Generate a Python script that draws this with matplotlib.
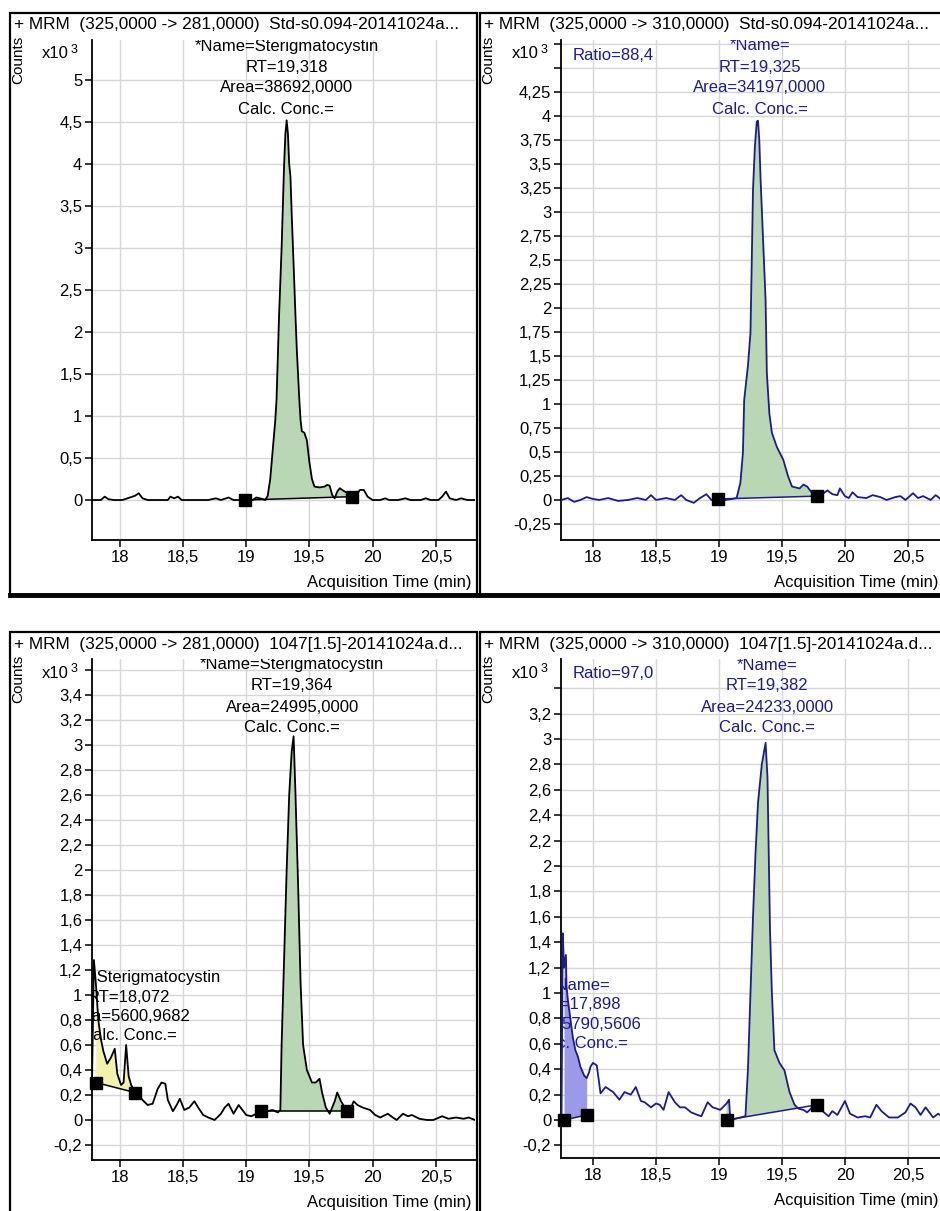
import numpy as np
import matplotlib
matplotlib.use("Agg")
import matplotlib.pyplot as plt
from matplotlib.ticker import FixedLocator, FuncFormatter
from matplotlib.lines import Line2D
from matplotlib.patches import Rectangle

plt.rcParams['font.family'] = ['Liberation Sans', 'DejaVu Sans']

W, H = 940, 1211
BLACK = "#000000"
BLUE = "#1c1c8c"
GREEN_FILL = "#b9d7b4"
YELLOW_FILL = "#f2f2ac"
BLUE_FILL = "#9a9ae6"
GRID = "#d6d6d6"

# ---------------- data (counts in x10^3, time in min) ----------------
tl_title = "+ MRM  (325,0000 -> 281,0000)  Std-s0.094-20141024a..."
tl_time = [17.78, 17.85, 17.88, 17.91, 17.95, 18.02, 18.08, 18.12, 18.15, 18.18,
           18.22, 18.30, 18.38, 18.40, 18.43, 18.46, 18.49, 18.60, 18.70, 18.76,
           18.80, 18.86, 18.90, 18.95, 19.00, 19.05, 19.08, 19.11, 19.15, 19.17,
           19.19, 19.21, 19.23, 19.24, 19.25, 19.26, 19.27, 19.28, 19.29, 19.30,
           19.31, 19.32, 19.33, 19.34, 19.35, 19.36, 19.37, 19.38, 19.39, 19.40,
           19.41, 19.42, 19.43, 19.44, 19.46, 19.48, 19.50, 19.52, 19.54, 19.58,
           19.62, 19.64, 19.66, 19.68, 19.70, 19.72, 19.74, 19.76, 19.78, 19.81,
           19.84, 19.87, 19.90, 19.93, 19.96, 20.00, 20.06, 20.10, 20.13, 20.20,
           20.26, 20.30, 20.38, 20.42, 20.46, 20.52, 20.55, 20.58, 20.61, 20.66,
           20.70, 20.75, 20.81]
tl_counts = [0.0, 0.0, 0.04, 0.01, 0.0, 0.0, 0.03, 0.05, 0.08, 0.02,
             0.0, 0.0, 0.0, 0.04, 0.02, 0.04, 0.0, 0.0, 0.0, 0.02,
             0.0, 0.03, 0.0, 0.0, 0.0, 0.0, 0.03, 0.02, 0.0, 0.05,
             0.25, 0.6, 0.95, 1.2, 1.7, 2.2, 2.6, 3.0, 3.5, 4.0,
             4.36, 4.52, 4.36, 4.0, 3.85, 3.4, 3.0, 2.6, 2.18, 1.8,
             1.5, 1.2, 0.95, 0.82, 0.8, 0.71, 0.45, 0.25, 0.16, 0.15,
             0.16, 0.18, 0.17, 0.06, 0.02, 0.1, 0.14, 0.12, 0.1, 0.08,
             0.04, 0.06, 0.12, 0.12, 0.04, 0.0, 0.0, 0.02, 0.0, 0.0,
             0.02, 0.0, 0.0, 0.02, 0.0, 0.0, 0.04, 0.1, 0.02, 0.0,
             0.02, 0.0, 0.0]
tl_peaks = [((18.99, 0.0), (19.84, 0.04), GREEN_FILL)]
# (retention time, anchor value or None for top of the plot, text lines)
tl_labels = [(19.318, None, ["*Name=Sterigmatocystin", "RT=19,318", "Area=38692,0000", "Calc. Conc.="])]
tl_yticks = [0, 0.5, 1, 1.5, 2, 2.5, 3, 3.5, 4, 4.5, 5]

tr_title = "+ MRM  (325,0000 -> 310,0000)  Std-s0.094-20141024a..."
tr_time = [17.75, 17.80, 17.85, 17.90, 17.95, 18.00, 18.05, 18.12, 18.20, 18.28,
           18.35, 18.42, 18.46, 18.50, 18.58, 18.65, 18.70, 18.74, 18.80, 18.85,
           18.90, 18.94, 18.99, 19.05, 19.10, 19.14, 19.17, 19.19, 19.20, 19.23,
           19.25, 19.26, 19.27, 19.285, 19.30, 19.31, 19.32, 19.33, 19.35, 19.37,
           19.38, 19.40, 19.42, 19.46, 19.51, 19.55, 19.58, 19.64, 19.67, 19.70,
           19.74, 19.78, 19.82, 19.86, 19.90, 19.94, 19.96, 20.00, 20.03, 20.06,
           20.10, 20.17, 20.22, 20.28, 20.33, 20.40, 20.44, 20.48, 20.54, 20.58,
           20.62, 20.68, 20.72, 20.77, 20.81]
tr_counts = [0.0, 0.02, -0.02, 0.0, 0.03, 0.01, 0.0, 0.02, -0.01, 0.0,
             0.02, 0.0, 0.05, 0.0, 0.02, 0.0, 0.05, 0.0, -0.03, 0.02,
             0.06, 0.0, 0.01, 0.0, 0.01, 0.02, 0.18, 0.49, 1.04, 1.4,
             1.74, 2.47, 3.23, 3.68, 3.94, 3.95, 3.75, 3.35, 2.71, 2.08,
             1.32, 0.9, 0.7, 0.55, 0.42, 0.24, 0.14, 0.12, 0.16, 0.14,
             0.07, 0.03, 0.06, 0.1, 0.06, 0.05, 0.12, 0.04, 0.02, 0.08,
             0.03, 0.02, 0.05, 0.03, 0.0, 0.03, 0.04, 0.0, 0.07, 0.02,
             0.04, 0.0, 0.05, 0.0, 0.01]
tr_peaks = [((18.99, 0.01), (19.78, 0.04), GREEN_FILL)]
tr_labels = [(19.325, None, ["*Name=", "RT=19,325", "Area=34197,0000", "Calc. Conc.="])]
tr_ratio = "Ratio=88,4"
tr_yticks = [-0.25, 0, 0.25, 0.5, 0.75, 1, 1.25, 1.5, 1.75, 2, 2.25, 2.5, 2.75,
             3, 3.25, 3.5, 3.75, 4, 4.25, 4.5, 4.75]

bl_title = "+ MRM  (325,0000 -> 281,0000)  1047[1.5]-20141024a.d..."
bl_time = [17.78, 17.795, 17.81, 17.83, 17.85, 17.87, 17.90, 17.93, 17.96, 17.98,
           18.01, 18.03, 18.05, 18.07, 18.09, 18.12, 18.15, 18.18, 18.22, 18.26,
           18.30, 18.33, 18.36, 18.38, 18.42, 18.45, 18.475, 18.51, 18.55, 18.59,
           18.62, 18.66, 18.70, 18.75, 18.80, 18.83, 18.86, 18.90, 18.94, 18.97,
           19.00, 19.04, 19.08, 19.12, 19.16, 19.21, 19.25, 19.27, 19.28, 19.30,
           19.32, 19.34, 19.36, 19.375, 19.39, 19.41, 19.43, 19.45, 19.48, 19.52,
           19.55, 19.58, 19.60, 19.63, 19.66, 19.70, 19.72, 19.75, 19.78, 19.80,
           19.83, 19.85, 19.88, 19.92, 19.98, 20.02, 20.06, 20.12, 20.16, 20.19,
           20.24, 20.28, 20.31, 20.37, 20.43, 20.48, 20.55, 20.60, 20.66, 20.72,
           20.76, 20.81]
bl_counts = [0.3, 1.28, 1.1, 0.8, 0.65, 0.55, 0.45, 0.5, 0.57, 0.37,
             0.28, 0.3, 0.6, 0.35, 0.28, 0.22, 0.2, 0.16, 0.12, 0.13,
             0.25, 0.3, 0.29, 0.16, 0.07, 0.12, 0.17, 0.08, 0.1, 0.15,
             0.1, 0.04, 0.02, 0.0, 0.05, 0.1, 0.13, 0.05, 0.12, 0.08,
             0.04, 0.03, 0.05, 0.07, 0.07, 0.08, 0.06, 0.08, 0.6, 1.3,
             2.0, 2.6, 2.95, 3.07, 2.6, 1.9, 1.1, 0.6, 0.4, 0.3,
             0.3, 0.33, 0.22, 0.1, 0.05, 0.15, 0.22, 0.15, 0.1, 0.07,
             0.1, 0.15, 0.12, 0.1, 0.08, 0.04, 0.02, 0.05, 0.02, 0.0,
             0.05, 0.03, 0.04, 0.01, 0.0, 0.0, 0.03, 0.01, 0.02, 0.01,
             0.02, 0.0]
bl_peaks = [((17.81, 0.3), (18.12, 0.22), YELLOW_FILL),
            ((19.12, 0.07), (19.80, 0.07), GREEN_FILL)]
bl_labels = [(19.364, None, ["*Name=Sterigmatocystin", "RT=19,364", "Area=24995,0000", "Calc. Conc.="]),
             (18.072, 1.14, ["*Name=Sterigmatocystin", "RT=18,072", "Area=5600,9682", "Calc. Conc.="])]
bl_yticks = [-0.2, 0, 0.2, 0.4, 0.6, 0.8, 1, 1.2, 1.4, 1.6, 1.8, 2, 2.2, 2.4, 2.6,
             2.8, 3, 3.2, 3.4, 3.6]

br_title = "+ MRM  (325,0000 -> 310,0000)  1047[1.5]-20141024a.d..."
br_time = [17.75, 17.76, 17.77, 17.785, 17.79, 17.80, 17.82, 17.84, 17.86, 17.88,
           17.90, 17.93, 17.95, 17.97, 17.98, 18.00, 18.03, 18.06, 18.10, 18.13,
           18.16, 18.21, 18.25, 18.30, 18.34, 18.38, 18.41, 18.46, 18.50, 18.53,
           18.56, 18.60, 18.65, 18.69, 18.73, 18.78, 18.83, 18.86, 18.91, 18.95,
           19.01, 19.06, 19.08, 19.09, 19.13, 19.17, 19.21, 19.23, 19.25, 19.27,
           19.29, 19.31, 19.34, 19.37, 19.385, 19.395, 19.405, 19.42, 19.44, 19.48,
           19.52, 19.56, 19.60, 19.63, 19.67, 19.70, 19.74, 19.78, 19.81, 19.87,
           19.90, 19.94, 20.00, 20.04, 20.10, 20.16, 20.20, 20.25, 20.29, 20.35,
           20.42, 20.48, 20.52, 20.56, 20.60, 20.64, 20.70, 20.74, 20.81]
br_counts = [0.0, 1.47, 1.2, 1.3, 1.05, 0.95, 0.8, 0.65, 0.55, 0.5,
             0.42, 0.35, 0.33, 0.38, 0.42, 0.45, 0.43, 0.21, 0.26, 0.24,
             0.22, 0.16, 0.22, 0.2, 0.26, 0.15, 0.14, 0.1, 0.13, 0.12,
             0.08, 0.22, 0.14, 0.1, 0.1, 0.06, 0.04, 0.03, 0.14, 0.1,
             0.08, 0.13, 0.16, 0.0, 0.01, 0.02, 0.03, 0.4, 1.0, 1.6,
             2.1, 2.5, 2.8, 2.97, 2.7, 2.1, 1.5, 1.0, 0.55, 0.45,
             0.39, 0.22, 0.12, 0.09, 0.08, 0.06, 0.1, 0.12, 0.08, 0.03,
             0.07, 0.04, 0.15, 0.05, 0.02, 0.03, 0.02, 0.12, 0.07, 0.02,
             0.02, 0.06, 0.13, 0.1, 0.04, 0.1, 0.02, 0.05, 0.0]
br_peaks = [((17.77, 0.0), (17.95, 0.04), BLUE_FILL),
            ((19.06, 0.0), (19.78, 0.12), GREEN_FILL)]
br_labels = [(19.382, None, ["*Name=", "RT=19,382", "Area=24233,0000", "Calc. Conc.="]),
             (17.898, 1.06, ["*Name=", "RT=17,898", "Area=5790,5606", "Calc. Conc.="])]
br_ratio = "Ratio=97,0"
br_yticks = [-0.2, 0, 0.2, 0.4, 0.6, 0.8, 1, 1.2, 1.4, 1.6, 1.8, 2, 2.2, 2.4, 2.6,
             2.8, 3, 3.2, 3.4]

x_ticks = [18, 18.5, 19, 19.5, 20, 20.5]
x_label = "Acquisition Time (min)"


def fx(px):
    return px / W


def fy(py):
    return 1 - py / H


def comma(v, pos=None):
    s = ("%.2f" % v).rstrip("0").rstrip(".")
    if s == "-0":
        s = "0"
    return s.replace(".", ",")


fig = plt.figure(figsize=(W / 100, H / 100), dpi=100)
fig.patch.set_facecolor("white")

FS = 12
PT = 0.72  # points per pixel at 100 dpi


def panel(x0, y0, ax_box, xlim, ylim, yticks, ymax_label, time, counts, color,
          peaks, labels, title, ratio=None, frame_w=467, frame_h=582, label_right=472):
    # frame around the panel
    fig.patches.append(Rectangle((fx(x0), fy(y0 + frame_h)), frame_w / W, frame_h / H,
                                 transform=fig.transFigure, fill=False,
                                 edgecolor=BLACK, lw=1.6))
    fig.lines.append(Line2D([fx(x0), fx(x0 + frame_w)], [fy(y0 + frame_h)] * 2,
                            transform=fig.transFigure, color=BLACK, lw=3.5))
    fig.text(fx(x0 + 4), fy(y0 + 12), title, fontsize=12.4, va="center", ha="left")
    fig.text(fx(x0 + 8), fy(y0 + 47), "Counts", fontsize=11, rotation=90,
             va="center", ha="center")
    fig.text(fx(x0 + 32), fy(y0 + 41), "x10", fontsize=FS, va="center", ha="left")
    fig.text(fx(x0 + 61), fy(y0 + 37), "3", fontsize=9, va="center", ha="left")
    if ratio:
        fig.text(fx(x0 + 93), fy(y0 + 42), ratio, fontsize=FS, va="center",
                 ha="left", color=color)

    l, t, r, b = ax_box
    ax = fig.add_axes([fx(l), fy(b), (r - l) / W, (b - t) / H])
    ax.set_xlim(*xlim)
    ax.set_ylim(*ylim)
    for s in ("top", "right"):
        ax.spines[s].set_visible(False)
    for s in ("left", "bottom"):
        ax.spines[s].set_linewidth(1.3)
    ax.xaxis.set_major_locator(FixedLocator(x_ticks))
    ax.yaxis.set_major_locator(FixedLocator(yticks))
    ax.xaxis.set_major_formatter(FuncFormatter(comma))
    ax.yaxis.set_major_formatter(FuncFormatter(
        lambda v, p: comma(v) if v <= ymax_label + 1e-9 else ""))
    ax.tick_params(labelsize=FS, length=5, width=1.1, pad=2, direction="out")
    ax.grid(True, color=GRID, lw=1.0)
    ax.set_axisbelow(True)

    t_arr = np.array(time)
    c_arr = np.array(counts)
    for (t1, v1), (t2, v2), fc in peaks:
        m = (t_arr > t1) & (t_arr < t2)
        xs = np.concatenate([[t1], t_arr[m], [t2]])
        ys = np.concatenate([[np.interp(t1, t_arr, c_arr)], c_arr[m],
                             [np.interp(t2, t_arr, c_arr)]])
        base = v1 + (v2 - v1) * (xs - t1) / (t2 - t1)
        ax.fill_between(xs, base, ys, where=ys >= base, interpolate=True,
                        color=fc, lw=0, zorder=2)
        ax.plot([t1, t2], [v1, v2], color=color, lw=1.1, zorder=3)
        ax.plot([t1, t2], [v1, v2], ls="none", marker="s", ms=8.5,
                color=BLACK, zorder=5, clip_on=False)
    ax.plot(t_arr, c_arr, color=color, lw=1.3, zorder=4)

    for rt, anchor, lines in labels:
        if anchor is None:
            xy, coords, start, step = (rt, 1), ax.get_xaxis_transform(), 6, 21
        else:
            xy, coords, start, step = (rt, anchor), "data", 0, 19.5
        for i, line in enumerate(lines):
            ax.annotate(line, xy=xy, xycoords=coords,
                        xytext=(0, -(start + step * i) * PT), textcoords="offset points",
                        ha="center", va="center", fontsize=FS, color=color,
                        annotation_clip=False, clip_on=True, zorder=6)

    fig.text(fx(label_right), fy(b + 42), x_label, ha="right", va="center", fontsize=FS)
    return ax


# top row
panel(10, 13, (92, 40, 475, 540), (17.78, 20.81), (-0.476, 5.476), tl_yticks, 5,
      tl_time, tl_counts, BLACK, tl_peaks, tl_labels, tl_title)
panel(480, 13, (561, 40, 947, 540), (17.746, 20.81), (-0.417, 4.79), tr_yticks, 4.25,
      tr_time, tr_counts, BLUE, tr_peaks, tr_labels, tr_title, ratio=tr_ratio,
      frame_w=480, label_right=938)

# bottom row
panel(10, 632, (92, 659, 475, 1160), (17.78, 20.81), (-0.32, 3.688), bl_yticks, 3.4,
      bl_time, bl_counts, BLACK, bl_peaks, bl_labels, bl_title)
panel(480, 632, (561, 659, 947, 1158), (17.746, 20.81), (-0.299, 3.63), br_yticks, 3.2,
      br_time, br_counts, BLUE, br_peaks, br_labels, br_title, ratio=br_ratio,
      frame_w=480, label_right=938)

fig.savefig("out.png", dpi=100)
